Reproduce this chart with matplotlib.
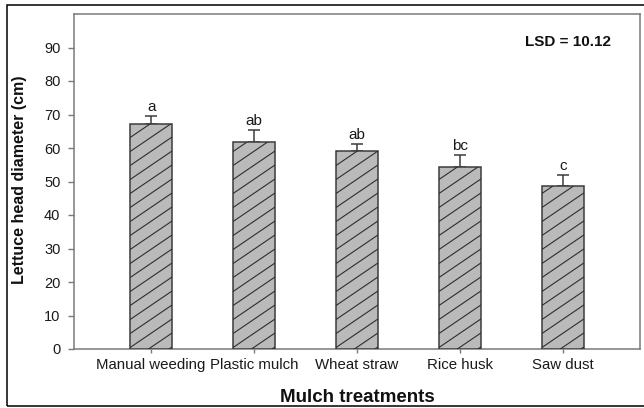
import numpy as np
import matplotlib.pyplot as plt
from matplotlib.patches import Rectangle
from matplotlib.collections import LineCollection
from matplotlib.transforms import IdentityTransform

treatments = ['Manual weeding', 'Plastic mulch', 'Wheat straw', 'Rice husk', 'Saw dust']
diameter = [67.3, 61.9, 59.0, 54.2, 48.6]
std_err = [2.2, 3.4, 2.3, 3.7, 3.2]
groups = ['a', 'ab', 'ab', 'bc', 'c']
lsd = 10.12

plt.rcParams['font.family'] = ['Liberation Sans', 'DejaVu Sans']

W, H = 644, 408
fig = plt.figure(figsize=(W / 100, H / 100), dpi=100)
ax = fig.add_axes([74 / W, 59 / H, 566 / W, 335 / H])

axis_grey = '#7a7a7a'
text_col = '#1a1a1a'
x = np.arange(len(treatments))

bars = ax.bar(x, diameter, width=0.41, color='#bababa', edgecolor='#3c3c3c',
              linewidth=1.1, zorder=3)
ax.errorbar(x, diameter, yerr=[np.zeros(len(x)), std_err], fmt='none',
            ecolor='#3c3c3c', elinewidth=1.1, capsize=4.3, capthick=1.1, zorder=2)

for xi, v, e, g in zip(x, diameter, std_err, groups):
    ax.annotate(g, (xi, v + e), xytext=(0, 1.5), textcoords='offset points',
                ha='center', va='bottom', fontsize=11, color=text_col)

ax.set_xlim(-0.75, 4.75)
ax.set_ylim(0, 100)
ax.set_yticks(np.arange(0, 100, 10))
ax.set_xticks(x)
ax.set_xticklabels(treatments)

# diagonal hatching drawn in pixel space, clipped to each bar
slope, step = 0.68, 14
for bar in bars:
    bb = bar.get_window_extent()
    c_lo = np.floor((bb.y0 - slope * bb.x1) / step) * step
    c_hi = bb.y1 - slope * bb.x0
    segs = [[(bb.x0, slope * bb.x0 + c), (bb.x1, slope * bb.x1 + c)]
            for c in np.arange(c_lo, c_hi + step, step)]
    lc = LineCollection(segs, colors='#2e2e2e', linewidths=0.8,
                        transform=IdentityTransform(), zorder=4)
    ax.add_collection(lc, autolim=False)
    lc.set_clip_path(bar)

for side in ['left', 'right', 'top', 'bottom']:
    ax.spines[side].set_color(axis_grey)
    ax.spines[side].set_linewidth(1.1)

ax.tick_params(axis='y', direction='out', length=4.3, width=1.0, color=axis_grey,
               pad=5.5, labelsize=10.5, labelcolor=text_col)
ax.tick_params(axis='x', direction='out', length=3.0, width=1.0, color=axis_grey,
               pad=3.5, labelsize=10.8, labelcolor=text_col)

ax.set_ylabel('Lettuce head diameter (cm)', fontsize=11.5, fontweight='bold',
              color='#111111', va='center')
ax.yaxis.set_label_coords((20 - 74) / 566, (228 - 59) / 335)
ax.set_xlabel('Mulch treatments', fontsize=13.5, fontweight='bold',
              color='#111111', va='center')
ax.xaxis.set_label_coords(0.5, (10 - 59) / 335)

ax.text(0.873, 0.916, f'LSD = {lsd:.2f}', transform=ax.transAxes, ha='center',
        va='center', fontsize=11, fontweight='bold', color='#111111')

# outer frame around the figure
fig.patches.append(Rectangle((6.5 / W, 2 / H), 1.0, 401 / H, transform=fig.transFigure,
                             fill=False, edgecolor='black', linewidth=1.1))

fig.savefig('out.png', dpi=100)
